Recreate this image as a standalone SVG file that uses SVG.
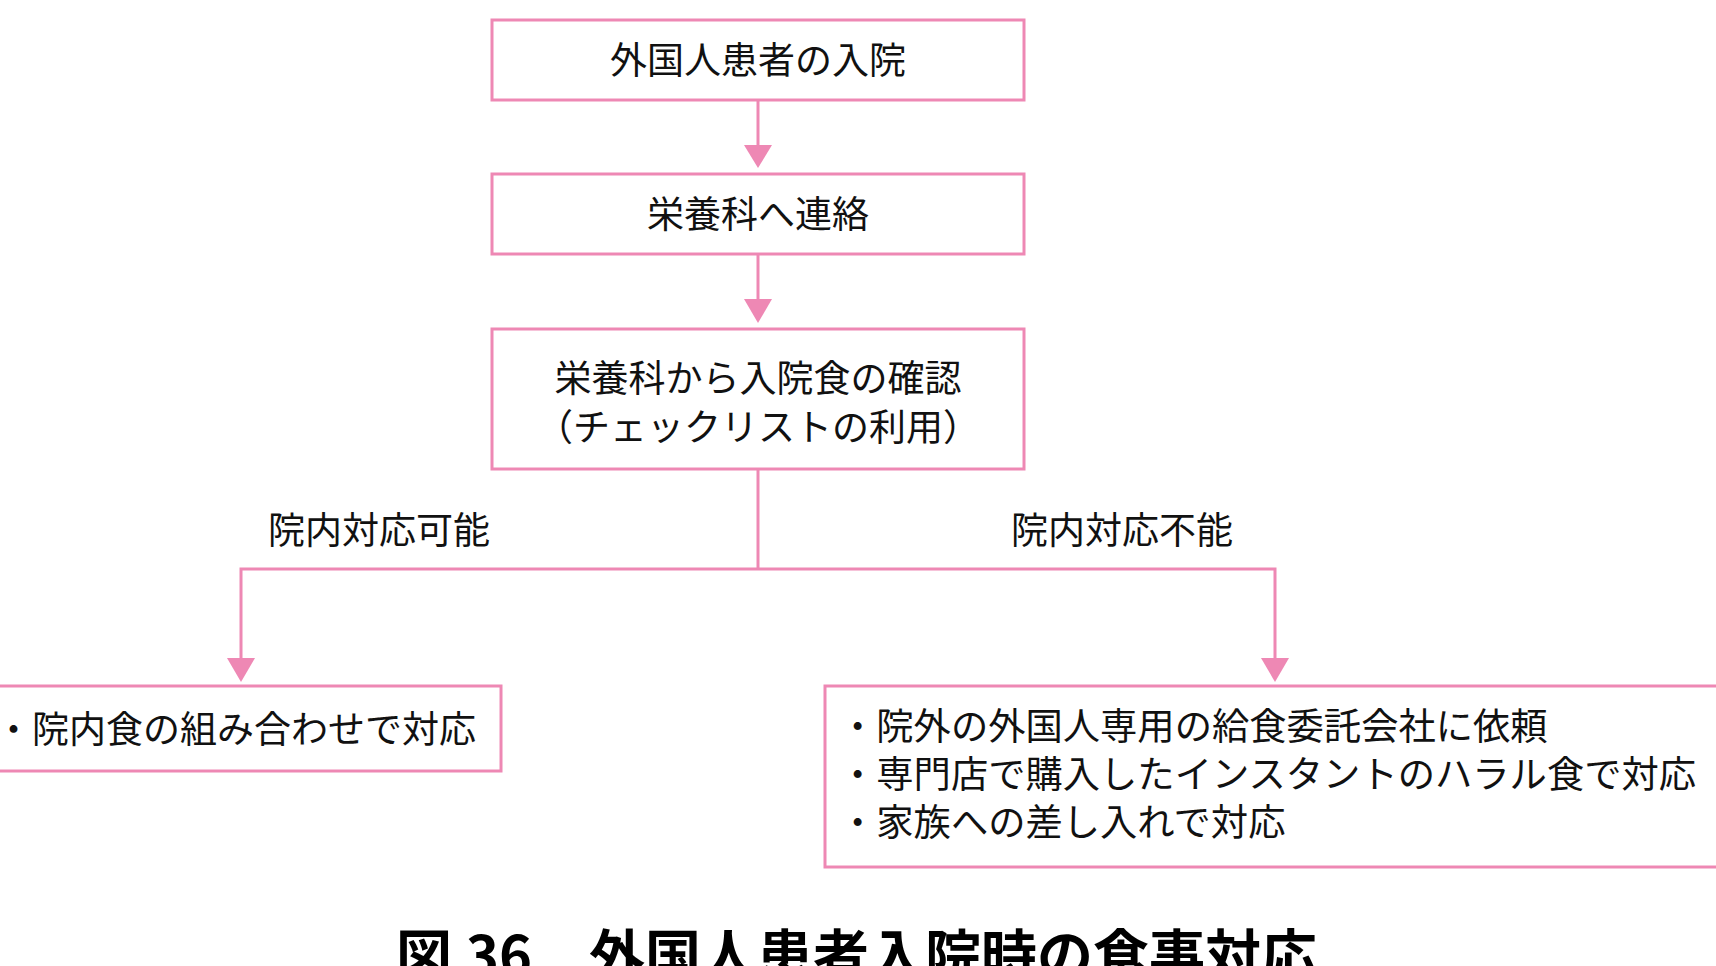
<svg xmlns="http://www.w3.org/2000/svg" width="1716" height="966" viewBox="0 0 1716 966">
<style>
.box{fill:#ffffff;stroke:#EE88B4;stroke-width:3}
.ln{fill:none;stroke:#EE88B4;stroke-width:3}
.ah{fill:#EE88B4;stroke:none}
.t{font-family:"Noto Sans CJK JP","Noto Sans CJK SC",sans-serif;font-size:37px;fill:#111111}
.c{text-anchor:middle;dominant-baseline:central}
.l{dominant-baseline:central}
.cap{font-family:"Noto Sans CJK JP","Noto Sans CJK SC",sans-serif;font-size:56px;font-weight:bold;fill:#000000}
</style>
<rect width="1716" height="966" fill="#ffffff"/>
<g id="connectors">
<line class="ln" x1="758" y1="100" x2="758" y2="148"/>
<polygon class="ah" points="744,145 772,145 758,168"/>
<line class="ln" x1="758" y1="254" x2="758" y2="302"/>
<polygon class="ah" points="744,299 772,299 758,323"/>
<polyline class="ln" points="758,469 758,569"/>
<polyline class="ln" points="241,661 241,569 1275,569 1275,661"/>
<polygon class="ah" points="227,658 255,658 241,682"/>
<polygon class="ah" points="1261,658 1289,658 1275,682"/>
<text class="t c" x="379" y="528">院内対応可能</text>
<text class="t c" x="1122" y="528">院内対応不能</text>
</g>
<g id="n1">
<rect class="box" x="492" y="20" width="532" height="80"/>
<text class="t c" x="758" y="58">外国人患者の入院</text>
</g>
<g id="n2">
<rect class="box" x="492" y="174" width="532" height="80"/>
<text class="t c" x="758" y="212">栄養科へ連絡</text>
</g>
<g id="n3">
<rect class="box" x="492" y="329" width="532" height="140"/>
<text class="t c" x="758" y="376">栄養科から入院食の確認</text>
<text class="t c" x="758" y="425">（チェックリストの利用）</text>
</g>
<g id="n4">
<rect class="box" x="-10" y="686" width="511" height="85"/>
<text class="t l" x="-5" y="727">・院内食の組み合わせで対応</text>
</g>
<g id="n5">
<rect class="box" x="825" y="686" width="910" height="181"/>
<text class="t l" style="font-size:37.3px" x="839" y="724">・院外の外国人専用の給食委託会社に依頼</text>
<text class="t l" style="font-size:37.3px" x="839" y="772">・専門店で購入したインスタントのハラル食で対応</text>
<text class="t l" style="font-size:37.3px" x="839" y="820">・家族への差し入れで対応</text>
</g>
<g id="caption">
<text class="cap" y="976"><tspan x="396">図</tspan><tspan x="466">36</tspan><tspan x="589">外国人患者入院時の食事対応</tspan></text>
</g>
</svg>
